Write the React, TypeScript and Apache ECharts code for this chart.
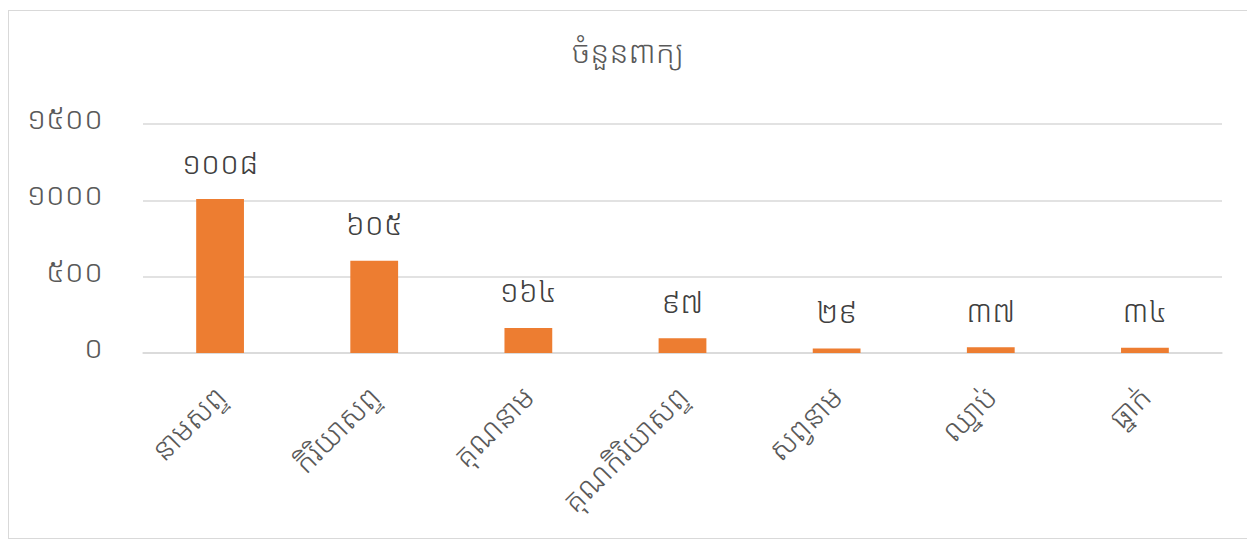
import React, { useEffect, useRef } from "react";
import * as echarts from "echarts";

const categories = ["នាមសព្ទ", "កិរិយាសព្ទ", "គុណនាម", "គុណកិរិយាសព្ទ", "សព្វនាម", "ឈ្នាប់", "ធ្នាក់"];
const values = [1008, 605, 164, 97, 29, 37, 34];
const yTicks = [0, 500, 1000, 1500];
const title = "ចំនួនពាក្យ";

const KH = "០១២៣៤៥៦៧៨៩";
const toKhmer = (n: number) => String(n).replace(/[0-9]/g, (d) => KH[Number(d)]);

const FONT = "'Noto Sans Khmer', 'Khmer OS', 'Noto Sans', 'DejaVu Sans', sans-serif";

export default function App() {
  const ref = useRef<HTMLDivElement>(null);
  useEffect(() => {
    if (!ref.current) return;
    const chart = echarts.init(ref.current, undefined, { renderer: "svg" });
    chart.setOption({
      animation: false,
      backgroundColor: "#ffffff",
      textStyle: { fontFamily: FONT },
      title: {
        text: title,
        left: "center",
        top: 19,
        textStyle: { fontFamily: FONT, fontSize: 31, fontWeight: 300, color: "#595959" },
      },
      grid: { left: 134, right: 25, top: 113, bottom: 185 },
      xAxis: {
        type: "category",
        data: categories,
        axisLine: { show: true, lineStyle: { color: "#d9d9d9", width: 1.5 } },
        axisTick: { show: false },
        axisLabel: {
          rotate: 45,
          margin: 38,
          fontFamily: FONT,
          fontSize: 30,
          fontWeight: 300,
          color: "#595959",
          interval: 0,
        },
      },
      yAxis: {
        type: "value",
        min: 0,
        max: 1500,
        interval: 500,
        axisLine: { show: false },
        axisTick: { show: false },
        splitLine: { lineStyle: { color: "#d9d9d9", width: 1.5 } },
        axisLabel: {
          margin: 40,
          fontFamily: FONT,
          fontSize: 31,
          fontWeight: 300,
          color: "#595959",
          formatter: (v: number) => (yTicks.includes(v) ? "{a|" + toKhmer(v) + "}" : ""),
          rich: {
            a: {
              fontFamily: FONT,
              fontSize: 31,
              fontWeight: 300,
              color: "#595959",
              padding: [0, 0, 14, 0],
            },
          },
        },
      },
      series: [
        {
          type: "bar",
          data: values,
          barWidth: "31%",
          itemStyle: { color: "#ed7d31" },
          label: {
            show: true,
            position: "top",
            distance: 22,
            fontFamily: FONT,
            fontSize: 31,
            fontWeight: 300,
            color: "#404040",
            formatter: (p: any) => toKhmer(p.value),
          },
        },
      ],
    });
    return () => chart.dispose();
  }, []);
  return (
    <div
      ref={ref}
      style={{ width: 1238, height: 527, border: "1px solid #d9d9d9", marginTop: 2 }}
    />
  );
}
